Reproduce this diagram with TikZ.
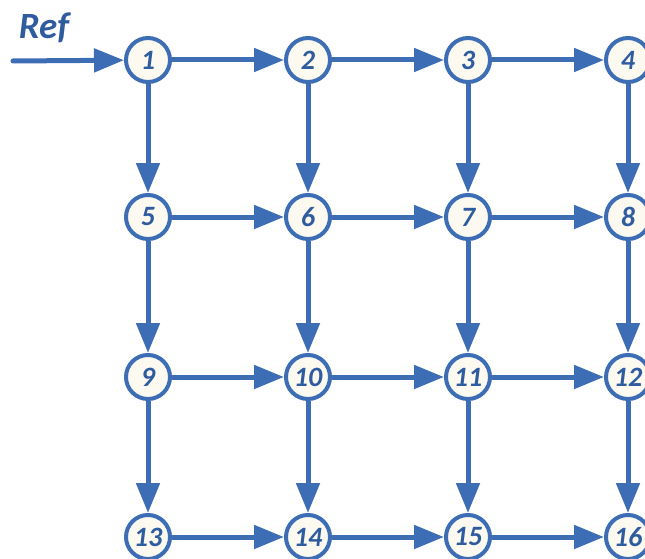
\documentclass[tikz,border=0pt]{standalone}
\usepackage{fontspec}
\setmainfont{Carlito}
\usetikzlibrary{arrows.meta}
\definecolor{lineblue}{HTML}{3D6DB5}
\definecolor{textblue}{HTML}{2F5C9E}
\definecolor{cream}{HTML}{FCFAF0}
\begin{document}
\begin{tikzpicture}[x=1pt,y=-1pt,
  gnode/.style={circle,draw=lineblue,line width=4pt,fill=cream,minimum size=44pt,inner sep=0pt,
    font=\fontsize{28}{28}\selectfont\bfseries\itshape,text=textblue},
  link/.style={draw=lineblue,line width=5pt,-{Triangle[length=30pt,width=23pt]}}]
\useasboundingbox (0,0) rectangle (645,559);
\foreach \r/\y in {0/60,1/217,2/377,3/537}{
  \foreach \c/\x in {1/148,2/308,3/468,4/628}{
    \pgfmathtruncatemacro{\n}{\r*4+\c}
    \node[gnode] (n\n) at (\x,\y) {\n};
  }
}
\foreach \a/\b in {1/2,2/3,3/4,5/6,6/7,7/8,9/10,10/11,11/12,13/14,14/15,15/16,
  1/5,5/9,9/13,2/6,6/10,10/14,3/7,7/11,11/15,4/8,8/12,12/16}{
  \draw[link] (n\a) -- (n\b);
}
\coordinate (start) at (13,61);
\draw[link,line cap=round] (start) -- (n1);
\node[font=\fontsize{37}{37}\selectfont\bfseries\itshape,text=textblue] (ref) at (44,28) {Ref};
\end{tikzpicture}
\end{document}
